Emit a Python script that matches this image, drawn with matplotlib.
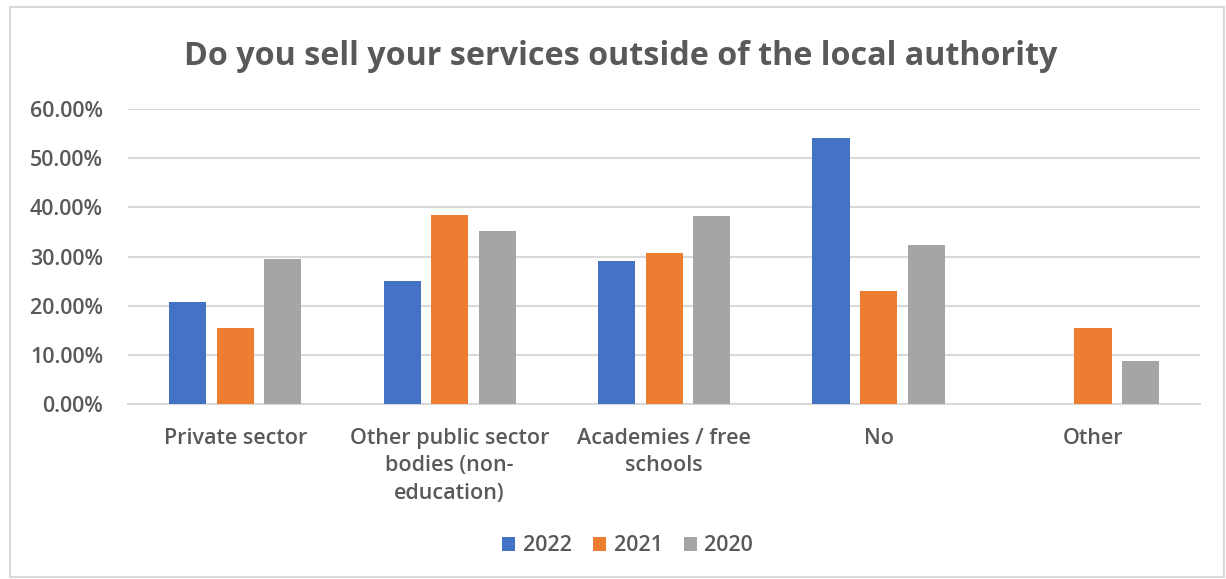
import matplotlib.pyplot as plt
import numpy as np
from matplotlib.patches import Rectangle

categories = [
    "Private sector",
    "Other public sector\nbodies (non-\neducation)",
    "Academies / free\nschools",
    "No",
    "Other",
]
years = ["2022", "2021", "2020"]
vals_2022 = [0.2083, 0.2500, 0.2917, 0.5417, 0.0]
vals_2021 = [0.1538, 0.3846, 0.3077, 0.2308, 0.1538]
vals_2020 = [0.2941, 0.3529, 0.3824, 0.3235, 0.0882]
yticks = [0.0, 0.1, 0.2, 0.3, 0.4, 0.5, 0.6]

colors = ["#4472C4", "#ED7D31", "#A5A5A5"]
text_col = "#595959"
grid_col = "#D9D9D9"

plt.rcParams["font.family"] = ["Open Sans", "DejaVu Sans"]

fig = plt.figure(figsize=(12.26, 5.79), dpi=100)
ax = fig.add_axes([0.1044, 0.302, 0.8746, 0.5097])

# thin frame round the whole chart
fig.patches.append(Rectangle((0.008, 0.003), 0.99, 0.985, transform=fig.transFigure,
                             fill=False, edgecolor=grid_col, linewidth=1.5))

x = np.arange(len(categories))
width = 0.173
step = 0.222
for i, (vals, yr) in enumerate(zip([vals_2022, vals_2021, vals_2020], years)):
    ax.bar(x + (i - 1) * step, vals, width, color=colors[i], label=yr, zorder=3)

ax.set_xlim(-0.5, len(categories) - 0.5)
ax.set_ylim(0, 0.6)
ax.set_yticks(yticks)
ax.set_yticklabels([f"{v * 100:.2f}%" for v in yticks])
ax.yaxis.grid(True, color=grid_col, linewidth=1.5, zorder=0)
ax.set_axisbelow(True)
for s in ["top", "right", "left"]:
    ax.spines[s].set_visible(False)
ax.spines["bottom"].set_color(grid_col)
ax.spines["bottom"].set_linewidth(1.5)
ax.tick_params(axis="both", length=0, colors=text_col, labelsize=15.5)
ax.tick_params(axis="y", pad=18)
ax.tick_params(axis="x", pad=17)
ax.set_xticks(x)
ax.set_xticklabels(categories, linespacing=1.42)
for lbl in ax.get_xticklabels() + ax.get_yticklabels():
    lbl.set_fontweight("semibold")
    lbl.set_color(text_col)

fig.text(0.506, 0.902, "Do you sell your services outside of the local authority",
         ha="center", va="center", fontsize=23.2, fontweight="bold", color=text_col)

leg = fig.legend(loc="center", bbox_to_anchor=(0.512, 0.057), ncol=3, frameon=False,
                 handlelength=0.6, handleheight=0.6, handletextpad=0.35, columnspacing=1.0,
                 fontsize=15.5)
for t in leg.get_texts():
    t.set_color(text_col)
    t.set_fontweight("semibold")

fig.savefig("out.png", dpi=100)
